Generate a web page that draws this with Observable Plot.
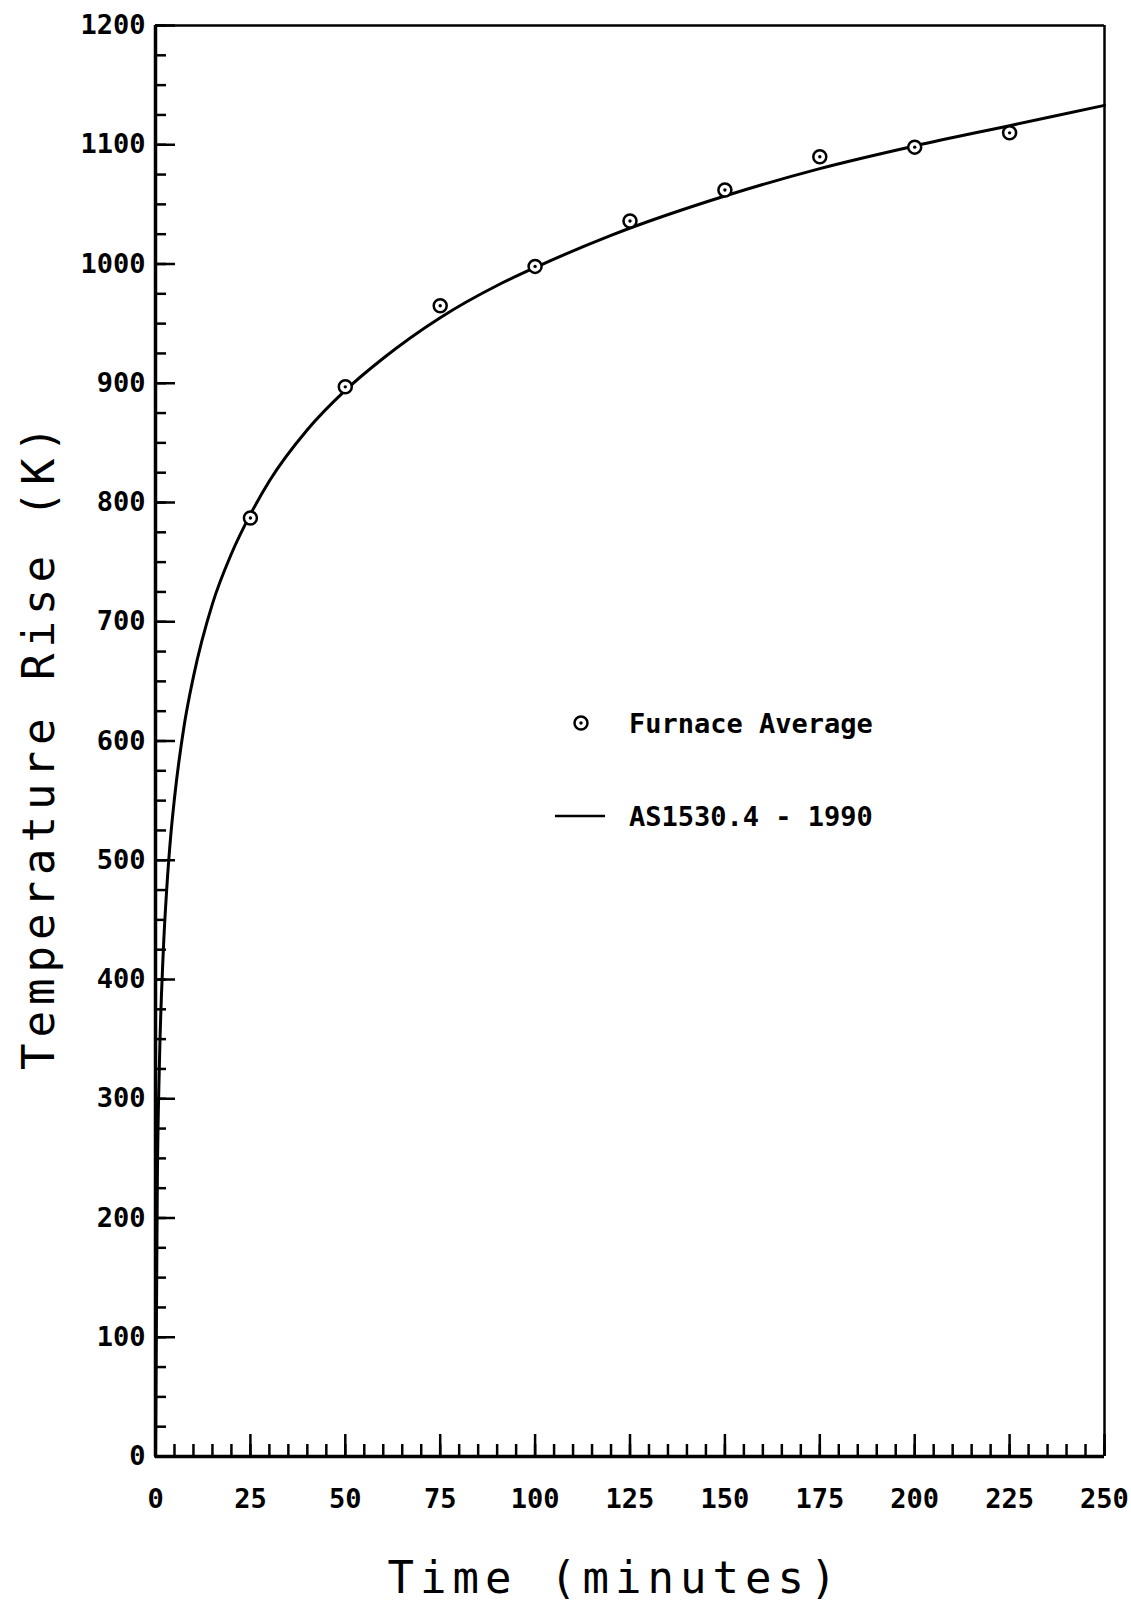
<!DOCTYPE html>
<html>
<head>
<meta charset="utf-8">
<script src="https://cdn.jsdelivr.net/npm/d3@7"></script>
<script src="https://cdn.jsdelivr.net/npm/@observablehq/plot@0.6"></script>
<style>
  body { margin: 0; background: #fff; }
  #wrap { position: relative; width: 1131px; height: 1607px; overflow: hidden; }
  #legend { position: absolute; left: 0; top: 0; pointer-events: none; }
  #legend text { font-family: "DejaVu Sans Mono", monospace; font-size: 27px; font-weight: bold; fill: #000; }
</style>
</head>
<body>
<div id="wrap"></div>
<script>
// AS1530.4 - 1990 standard curve
const curveTime = [0, 0.5, 1, 2, 3, 4, 5, 7.5, 10, 15, 20, 25, 30, 40, 50, 60, 75, 90, 100, 120, 150, 175, 200, 225, 250];
const curveTemp = [0, 235, 325, 420, 478, 520, 552, 612, 654, 715, 757, 790, 818, 861, 894, 921, 955, 982, 997, 1024, 1057, 1080, 1099, 1116, 1133];

// Furnace average measurements
const furnaceTime = [25, 50, 75, 100, 125, 150, 175, 200, 225];
const furnaceTemp = [787, 897, 965, 998, 1036, 1062, 1090, 1098, 1110];

// Tick labels
const xMajorTicks = [0, 25, 50, 75, 100, 125, 150, 175, 200, 225, 250];
const yMajorTicks = [0, 100, 200, 300, 400, 500, 600, 700, 800, 900, 1000, 1100, 1200];
const xMinorTicks = d3.range(0, 251, 5);
const yMinorTicks = d3.range(0, 1201, 25);

const xTitle = "Time (minutes)";
const yTitle = "Temperature Rise (K)";
const legendLabels = ["Furnace Average", "AS1530.4 - 1990"];

const curve = curveTime.map((t, i) => ({t, v: curveTemp[i]}));
const furnace = furnaceTime.map((t, i) => ({t, v: furnaceTemp[i]}));

const chart = Plot.plot({
  width: 1131,
  height: 1607,
  marginLeft: 155,
  marginRight: 27,
  marginTop: 25,
  marginBottom: 151,
  style: {fontFamily: "DejaVu Sans Mono, monospace", fontSize: "27px", color: "#000", background: "#fff", overflow: "visible"},
  x: {domain: [0, 250], label: null},
  y: {domain: [0, 1200], label: null},
  marks: [
    // minor ticks (inward)
    Plot.axisY({ticks: yMinorTicks, tickSize: -11, text: null, strokeWidth: 2.5, label: null}),
    Plot.axisX({ticks: xMinorTicks, tickSize: -12, text: null, strokeWidth: 2.5, label: null}),
    // major ticks with labels
    Plot.axisY({ticks: yMajorTicks, tickSize: -20, tickPadding: 30, tickFormat: d => String(d), strokeWidth: 2.5, fontWeight: "bold", label: null}),
    Plot.axisX({ticks: xMajorTicks, tickSize: -22, tickPadding: 54, tickFormat: d => String(d), strokeWidth: 2.5, fontWeight: "bold", label: null}),
    // frame
    Plot.ruleX([0], {strokeWidth: 3.5}),
    Plot.ruleY([0], {strokeWidth: 3.5}),
    Plot.ruleY([1200], {strokeWidth: 2.5}),
    Plot.ruleX([250], {strokeWidth: 2.5}),
    // standard curve
    Plot.line(curve, {x: "t", y: "v", curve: "monotone-x", stroke: "#000", strokeWidth: 3}),
    // furnace points
    Plot.dot(furnace, {x: "t", y: "v", r: 6.5, stroke: "#000", strokeWidth: 2.5, fill: "#fff"}),
    Plot.dot(furnace, {x: "t", y: "v", r: 1.7, fill: "#000", stroke: null}),
    // axis titles
    Plot.text([xTitle], {frameAnchor: "bottom", dx: -15, dy: 122, fontSize: 44, textAnchor: "middle", lineAnchor: "middle", text: d => d}),
    Plot.text([yTitle], {frameAnchor: "left", dx: -116, dy: 4, rotate: -90, fontSize: 44, textAnchor: "middle", lineAnchor: "middle", text: d => d})
  ]
});

d3.select(chart).selectAll('g[aria-label="text"] text').style("letter-spacing", "6px");
document.getElementById("wrap").appendChild(chart);

// legend overlay
const lg = d3.select("#wrap").append("svg").attr("id", "legend").attr("width", 1131).attr("height", 1607);
const row1 = lg.append("g").attr("transform", "translate(581,723)");
row1.append("circle").attr("r", 6.5).attr("fill", "#fff").attr("stroke", "#000").attr("stroke-width", 2.5);
row1.append("circle").attr("r", 1.7).attr("fill", "#000");
lg.append("text").attr("x", 629).attr("y", 723).attr("dy", "0.36em").text(legendLabels[0]);
lg.append("line").attr("x1", 555).attr("x2", 605).attr("y1", 816).attr("y2", 816).attr("stroke", "#000").attr("stroke-width", 2.5);
lg.append("text").attr("x", 629).attr("y", 816).attr("dy", "0.36em").text(legendLabels[1]);
</script>
</body>
</html>
